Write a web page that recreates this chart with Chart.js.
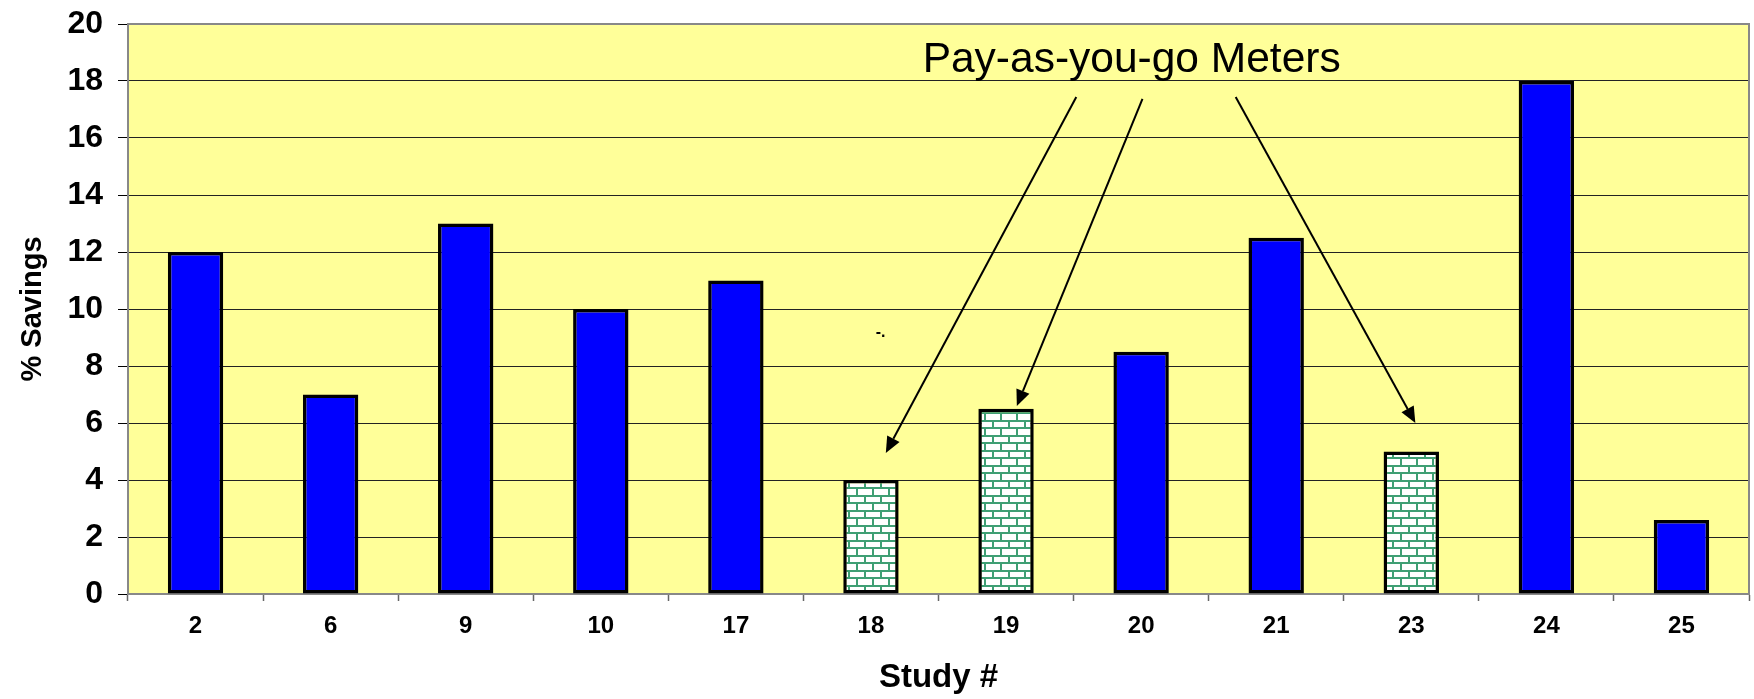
<!DOCTYPE html>
<html>
<head>
<meta charset="utf-8">
<title>% Savings by Study</title>
<script src="https://cdn.jsdelivr.net/npm/chart.js@4/dist/chart.umd.min.js"></script>
<style>
  html, body { margin: 0; padding: 0; background: #ffffff; }
  #wrap { width: 1754px; height: 699px; }
</style>
</head>
<body>
<div id="wrap"><canvas id="savingsChart" width="1754" height="699"></canvas></div>
<script>
const studies = ["2", "6", "9", "10", "17", "18", "19", "20", "21", "23", "24", "25"];
const savings = [12, 7, 13, 10, 11, 4, 6.5, 8.5, 12.5, 5, 18, 2.6];
const payAsYouGo = ["18", "19", "23"];
const yTicks = [0, 2, 4, 6, 8, 10, 12, 14, 16, 18, 20];

const FONT = "'Liberation Sans', Arial, Helvetica, sans-serif";

// green brick fill used for the pay-as-you-go studies
const brickPattern = (() => {
  const tile = document.createElement("canvas");
  tile.width = 16;
  tile.height = 15;
  const g = tile.getContext("2d");
  g.fillStyle = "#ffffff";
  g.fillRect(0, 0, 16, 15);
  g.fillStyle = "#3f9f74";
  g.fillRect(0, 0, 16, 2);
  g.fillRect(0, 7, 16, 2);
  g.fillRect(0, 0, 2, 7);
  g.fillRect(8, 7, 2, 8);
  return tile.getContext("2d").createPattern(tile, "repeat");
})();

const barFill = studies.map((s) => (payAsYouGo.includes(s) ? brickPattern : "#0000ff"));

// yellow plot background, grey frame, arrows and the callout text
const plotDecor = {
  id: "plotDecor",
  beforeDraw(chart) {
    const { ctx, chartArea: a } = chart;
    ctx.save();
    ctx.fillStyle = "#ffff99";
    ctx.fillRect(a.left, a.top, a.right - a.left, a.bottom - a.top);
    ctx.restore();
  },
  afterDatasetsDraw(chart) {
    const { ctx, chartArea: a } = chart;
    const x = chart.scales.x;
    const y = chart.scales.y;
    const px = (i) => x.getPixelForValue(i);

    ctx.save();
    ctx.strokeStyle = "#888888";
    ctx.lineWidth = 2;
    ctx.beginPath();
    ctx.moveTo(a.left, a.top);
    ctx.lineTo(a.right, a.top);
    ctx.lineTo(a.right, a.bottom);
    ctx.stroke();

    ctx.fillStyle = "#000";
    ctx.font = `42.5px ${FONT}`;
    ctx.textAlign = "center";
    ctx.textBaseline = "alphabetic";
    ctx.fillText("Pay-as-you-go Meters", px(6.93), y.getPixelForValue(18.32));

    ctx.font = `bold 16px ${FONT}`;
    ctx.textAlign = "left";
    ctx.textBaseline = "middle";
    ctx.fillText("-.", px(5.05) - 2, y.getPixelForValue(9.16));

    const arrows = [
      [6.52, 17.44, 5.11, 4.95],
      [7.01, 17.37, 6.08, 6.6],
      [7.70, 17.44, 9.03, 6.0],
    ];
    arrows.forEach(([i0, v0, i1, v1]) => {
      const x0 = px(i0), y0 = y.getPixelForValue(v0);
      const x1 = px(i1), y1 = y.getPixelForValue(v1);
      const ang = Math.atan2(y1 - y0, x1 - x0);
      const len = 16, half = 7;
      const bx = x1 - len * Math.cos(ang), by = y1 - len * Math.sin(ang);
      ctx.strokeStyle = "#000";
      ctx.lineWidth = 2;
      ctx.beginPath();
      ctx.moveTo(x0, y0);
      ctx.lineTo(bx, by);
      ctx.stroke();
      ctx.beginPath();
      ctx.moveTo(x1, y1);
      ctx.lineTo(bx + half * Math.sin(ang), by - half * Math.cos(ang));
      ctx.lineTo(bx - half * Math.sin(ang), by + half * Math.cos(ang));
      ctx.closePath();
      ctx.fill();
    });
    ctx.restore();
  },
};

new Chart(document.getElementById("savingsChart"), {
  type: "bar",
  data: {
    labels: studies,
    datasets: [
      {
        label: "% Savings",
        data: savings,
        backgroundColor: barFill,
        borderColor: "#000000",
        borderWidth: 3.5,
        borderSkipped: false,
        categoryPercentage: 1,
        barPercentage: 0.41,
      },
    ],
  },
  options: {
    responsive: false,
    animation: false,
    devicePixelRatio: 1,
    layout: { padding: { top: 24, right: 5, left: 0, bottom: 0 } },
    plugins: {
      legend: { display: false },
      tooltip: { enabled: false },
    },
    scales: {
      x: {
        afterFit: (scale) => {
          scale.height = 105;
          scale.paddingLeft = 0;
          scale.paddingRight = 0;
        },
        grid: {
          drawOnChartArea: false,
          drawTicks: true,
          tickLength: 7,
          tickColor: "#666666",
          tickWidth: 1.5,
        },
        border: { color: "#888888", width: 2 },
        ticks: {
          color: "#000",
          padding: 11,
          font: { family: FONT, size: 24, weight: "bold" },
        },
        title: {
          display: true,
          text: "Study #",
          color: "#000",
          padding: { top: 0, bottom: 1 },
          font: { family: FONT, size: 33, weight: "bold" },
        },
      },
      y: {
        min: 0,
        max: 20,
        afterFit: (scale) => {
          scale.width = 128;
          scale.paddingTop = 0;
          scale.paddingBottom = 0;
        },
        afterBuildTicks: (scale) => { scale.ticks = yTicks.map((v) => ({ value: v })); },
        grid: {
          color: (c) => (c.tick && (c.tick.value === 20 || c.tick.value === 0) ? "#888888" : "#222222"),
          lineWidth: 1,
          tickLength: 10,
          tickColor: "#000000",
        },
        border: { color: "#888888", width: 2 },
        ticks: {
          color: "#000",
          padding: 15,
          font: { family: FONT, size: 32, weight: "bold" },
        },
        title: {
          display: true,
          text: "% Savings",
          color: "#000",
          padding: { top: 16, bottom: 0 },
          font: { family: FONT, size: 29, weight: "bold" },
        },
      },
    },
  },
  plugins: [plotDecor],
});
</script>
</body>
</html>
